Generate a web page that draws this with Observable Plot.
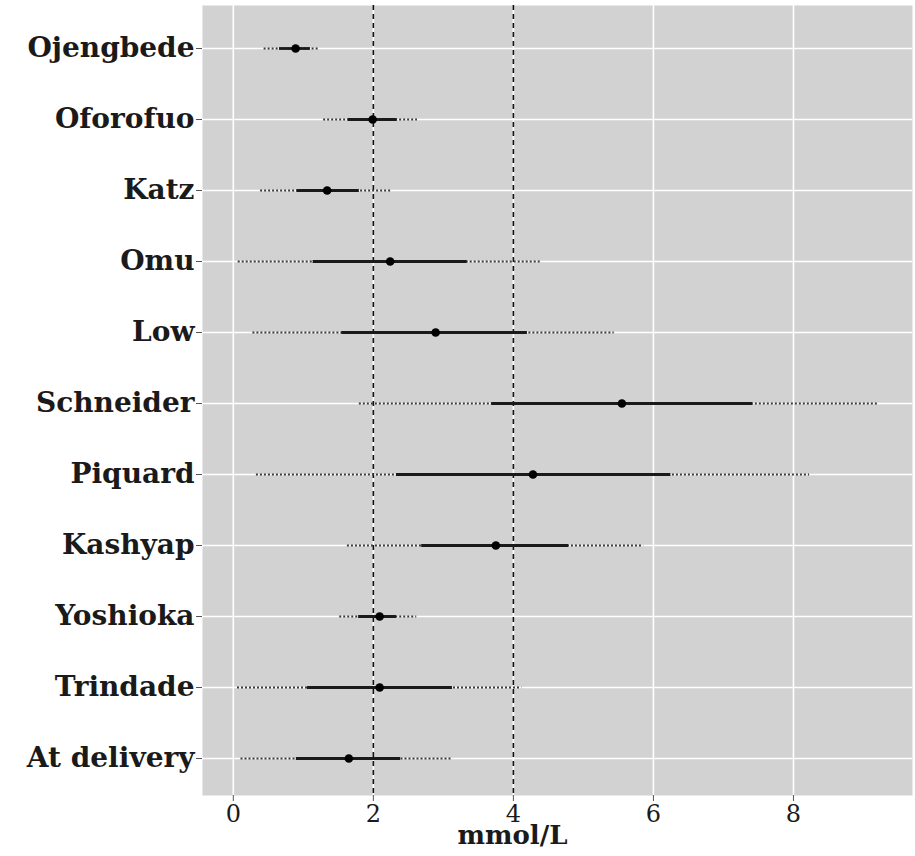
<!DOCTYPE html>
<html>
<head>
<meta charset="utf-8">
<script src="https://cdn.jsdelivr.net/npm/d3@7"></script>
<script src="https://cdn.jsdelivr.net/npm/@observablehq/plot@0.6"></script>
<style>
  html, body { margin: 0; padding: 0; background: #fff; }
  #chart svg { display: block; }
</style>
</head>
<body>
<div id="chart"></div>
<script>
const studies = ["Ojengbede", "Oforofuo", "Katz", "Omu", "Low", "Schneider", "Piquard", "Kashyap", "Yoshioka", "Trindade", "At delivery"];
const estimate = [0.89, 1.99, 1.34, 2.24, 2.89, 5.55, 4.28, 3.75, 2.09, 2.09, 1.65];
const innerLow  = [0.66, 1.64, 0.91, 1.14, 1.55, 3.69, 2.33, 2.69, 1.79, 1.06, 0.90];
const innerHigh = [1.10, 2.34, 1.80, 3.34, 4.20, 7.42, 6.25, 4.79, 2.33, 3.13, 2.39];
const outerLow  = [0.44, 1.29, 0.39, 0.07, 0.28, 1.80, 0.33, 1.63, 1.52, 0.06, 0.11];
const outerHigh = [1.23, 2.63, 2.27, 4.39, 5.44, 9.21, 8.23, 5.86, 2.62, 4.12, 3.13];
const xTicks = [0, 2, 4, 6, 8];
const refLines = [2, 4];
const xLabel = "mmol/L";

const data = studies.map((s, i) => ({
  study: s, est: estimate[i], lo: innerLow[i], hi: innerHigh[i], olo: outerLow[i], ohi: outerHigh[i]
}));

const font = "'DejaVu Serif', serif";

const chart = Plot.plot({
  width: 915,
  height: 856,
  marginLeft: 202,
  marginRight: 3,
  marginTop: 5,
  marginBottom: 61,
  style: { fontFamily: font, background: "#fff" },
  x: { domain: [-0.44, 9.7], ticks: xTicks },
  y: { type: "point", domain: studies, range: [45, 760], padding: 0 },
  marks: [
    Plot.frame({ fill: "#d2d2d2", stroke: null }),
    Plot.gridX(xTicks, { stroke: "#fff", strokeOpacity: 1, strokeWidth: 1.6 }),
    Plot.gridY(studies, { stroke: "#fff", strokeOpacity: 1, strokeWidth: 1.6 }),
    Plot.ruleX(refLines, { stroke: "#111", strokeWidth: 1.6, strokeDasharray: "5,4" }),
    Plot.ruleY(data, { y: "study", x1: "olo", x2: "ohi", stroke: "#3a3a3a", strokeWidth: 2, strokeDasharray: "2,2" }),
    Plot.ruleY(data, { y: "study", x1: "lo", x2: "hi", stroke: "#1a1a1a", strokeWidth: 2.8 }),
    Plot.dot(data, { x: "est", y: "study", r: 4.3, fill: "#000", stroke: null }),
    Plot.axisY({ tickSize: 6, tickPadding: 2, stroke: "#555", fontSize: 28, fontWeight: "bold", fill: "#1a1a1a", label: null }),
    Plot.axisX(xTicks, { tickSize: 6, tickPadding: 3, stroke: "#555", fontSize: 24, fill: "#1a1a1a", label: null }),
    Plot.text([xLabel], { frameAnchor: "bottom", dy: 48, dx: -45, fontSize: 26, fontWeight: "bold", fill: "#1a1a1a" })
  ]
});

document.getElementById("chart").appendChild(chart);
</script>
</body>
</html>
